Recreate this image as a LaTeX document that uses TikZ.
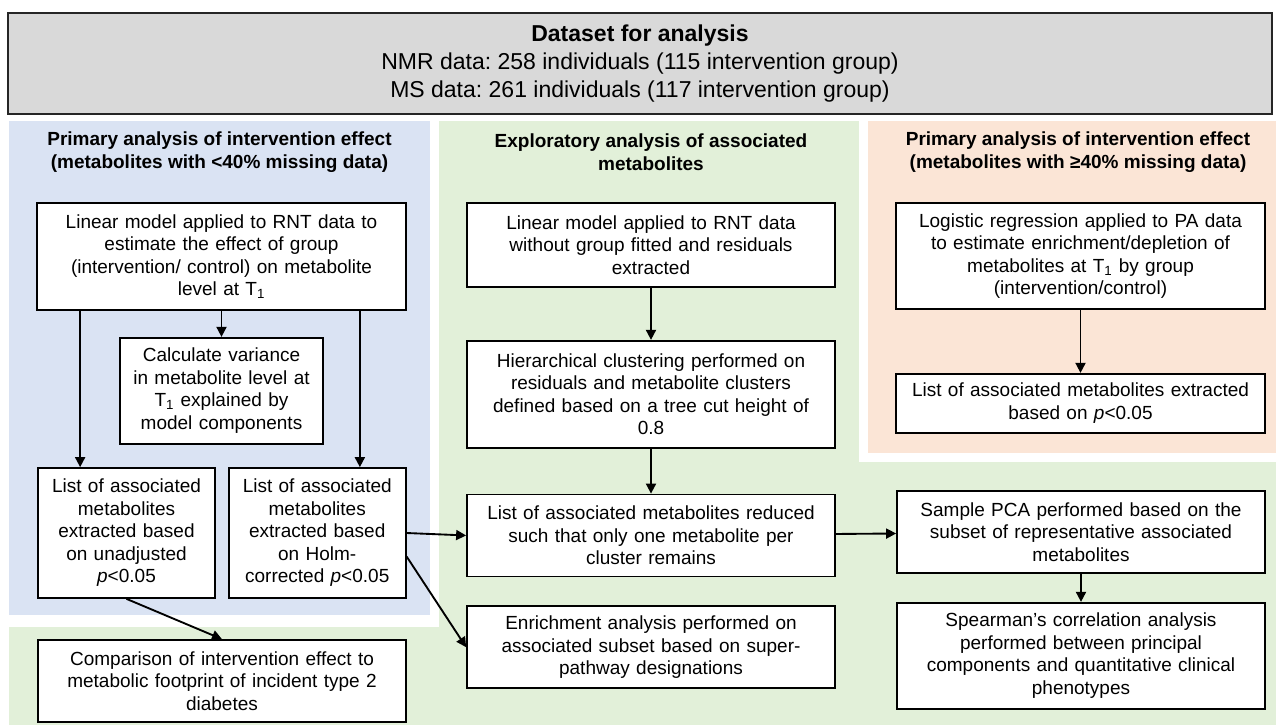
\documentclass[tikz,border=0pt]{standalone}
\usepackage{fontspec}
\setmainfont{Liberation Sans}
\usepackage{xcolor}
\usetikzlibrary{arrows.meta, positioning}

\definecolor{graybg}{HTML}{D9D9D9}
\definecolor{bluebg}{HTML}{DAE3F3}
\definecolor{greenbg}{HTML}{E2F0D9}
\definecolor{orangebg}{HTML}{FBE5D6}

\newcommand{\boxfont}{\fontsize{14.25pt}{16.9pt}\selectfont}
\newcommand{\headfont}{\fontsize{17.25pt}{21pt}\selectfont}
\frenchspacing

\begin{document}
\begin{tikzpicture}[
  x=0.75pt, y=-0.75pt,
  box/.style={draw, fill=white, line width=1.3pt, align=center, inner xsep=0pt, inner ysep=2pt, font=\boxfont},
  wide/.style={box, text width=276pt},
  narrow/.style={box, text width=132.75pt},
  regtitle/.style={align=center, font=\boxfont\bfseries},
  arr/.style={-{Triangle[length=7.5pt, width=7.5pt]}, line width=1.4pt}
]
  \useasboundingbox (0,0) rectangle (1276,727);

  % background panels
  \fill[greenbg] (9,121) rectangle (1276,725);
  \fill[white] (9,121) rectangle (439,627);
  \fill[bluebg] (9,121) rectangle (430,615);
  \fill[white] (859,121) rectangle (1276,462);
  \fill[orangebg] (868,121) rectangle (1276,453);

  % header
  \node[draw=black!85, fill=graybg, line width=1.3pt, align=center, minimum width=948pt, minimum height=75.75pt, font=\headfont] (data) at (640,63.5)
    {\textbf{Dataset for analysis}\\NMR data: 258 individuals (115 intervention group)\\MS data: 261 individuals (117 intervention group)};

  \node[regtitle] (ttlA) at (219.5,152) {Primary analysis of intervention effect\\(metabolites with <40\% missing data)};
  \node[regtitle] (ttlB) at (651,152) {Exploratory analysis of associated\\metabolites};
  \node[regtitle] (ttlC) at (1078,152) {Primary analysis of intervention effect\\(metabolites with ≥40\% missing data)};

  % left column
  \node[wide, text width=276.75pt, minimum height=80.25pt] (lin) at (221.5,256.5)
    {Linear model applied to RNT data to\\estimate the effect of group\\(intervention/ control) on metabolite\\level at T\textsubscript{1}};
  \node[box, text width=152.25pt, minimum height=79.5pt, below=19.5pt of lin] (var)
    {Calculate variance\\in metabolite level at\\T\textsubscript{1} explained by\\model components};
  \node[narrow, minimum height=97.5pt] (unadj) at (126.5,533)
    {List of associated\\metabolites\\extracted based\\on unadjusted\\\textit{p}<0.05};
  \node[narrow, minimum height=97.5pt, right=9pt of unadj] (holm)
    {List of associated\\metabolites\\extracted based\\on Holm-\\corrected \textit{p}<0.05};
  \node[wide, minimum height=61.5pt] (comp) at (222,681)
    {Comparison of intervention effect to\\metabolic footprint of incident type 2\\diabetes};

  % middle column
  \node[wide, minimum height=63pt] (rnt) at (651,245)
    {Linear model applied to RNT data\\without group fitted and residuals\\extracted};
  \node[wide, minimum height=80.25pt, below=39pt of rnt] (hier)
    {Hierarchical clustering performed on\\residuals and metabolite clusters\\defined based on a tree cut height of\\0.8};
  \node[wide, minimum height=61.5pt, below=33.75pt of hier] (red)
    {List of associated metabolites reduced\\such that only one metabolite per\\cluster remains};
  \node[wide, minimum height=61.5pt, below=21pt of red] (enr)
    {Enrichment analysis performed on\\associated subset based on super-\\pathway designations};

  % right column
  \node[wide, text width=276.75pt, minimum height=79.5pt] (logit) at (1080.5,256)
    {Logistic regression applied to PA data\\to estimate enrichment/depletion of\\metabolites at T\textsubscript{1} by group\\(intervention/control)};
  \node[wide, text width=276.75pt, minimum height=44.25pt, below=47.25pt of logit] (pa)
    {List of associated metabolites extracted\\based on \textit{p}<0.05};
  \node[wide, minimum height=61.5pt] (pca) at (1081,532)
    {Sample PCA performed based on the\\subset of representative associated\\metabolites};
  \node[wide, minimum height=79.5pt, below=21pt of pca] (spear)
    {Spearman’s correlation analysis\\performed between principal\\components and quantitative clinical\\phenotypes};

  % arrows
  \coordinate (lsplit) at ([xshift=33pt]lin.south west);
  \coordinate (rsplit) at ([xshift=-35.25pt]lin.south east);
  \draw[arr] (lin) -- (var);
  \draw[arr] (lsplit) -- (lsplit |- unadj.north);
  \draw[arr] (rsplit) -- (rsplit |- holm.north);
  \draw[arr] (unadj.south) -- (comp.north);
  \draw[arr] (holm.east) -- (red.west);
  \draw[arr] ([yshift=-17.6pt]holm.east) -- (enr.west);
  \draw[arr] (rnt) -- (hier);
  \draw[arr] (hier) -- (red);
  \draw[arr] (red) -- (pca);
  \draw[arr] (logit) -- (pa);
  \draw[arr] (pca) -- (spear);
\end{tikzpicture}
\end{document}
